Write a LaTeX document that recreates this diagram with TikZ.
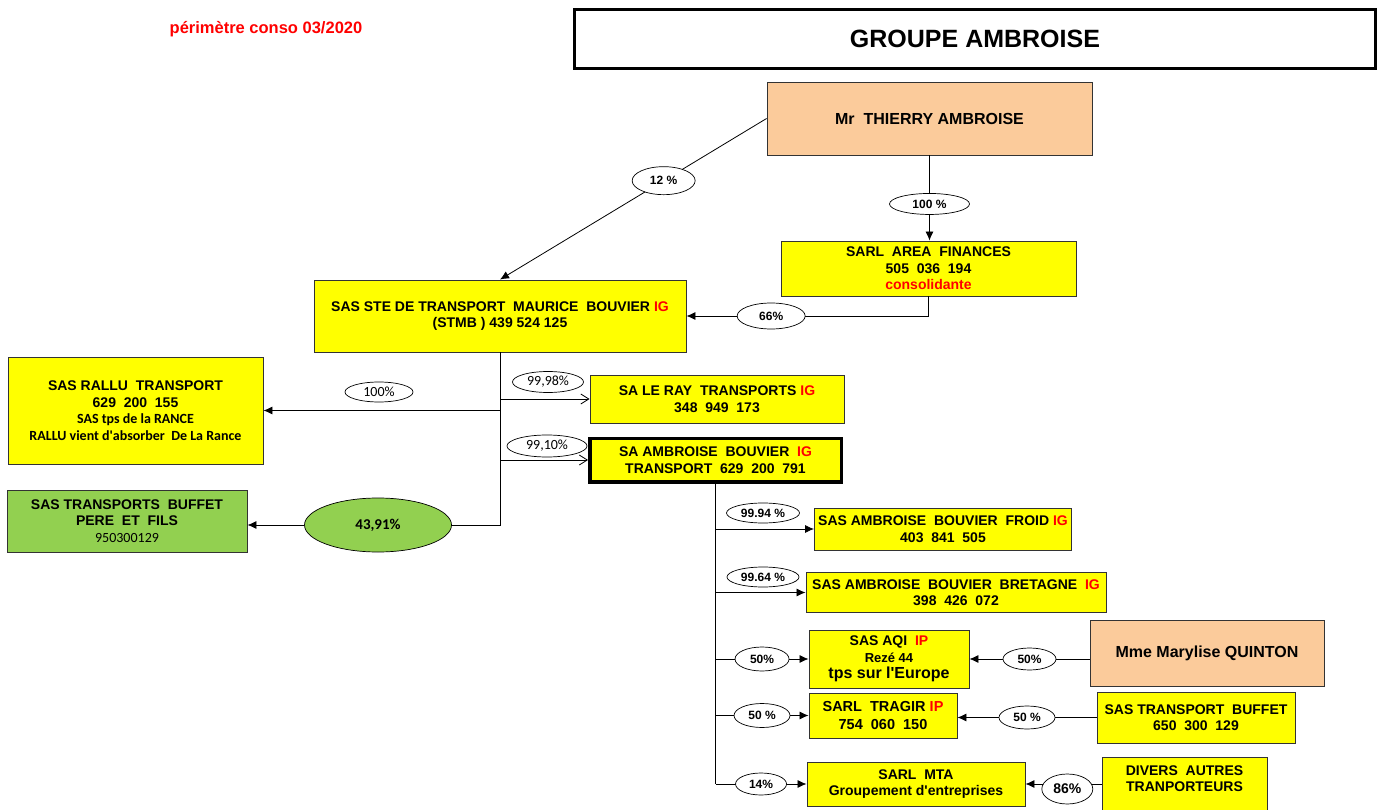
\documentclass[tikz,border=0pt]{standalone}
\usepackage{fontspec}
\setmainfont{Liberation Sans}
\newfontfamily\calibfont{Carlito}
\usetikzlibrary{shapes.geometric,arrows.meta}
\definecolor{peach}{RGB}{251,203,155}
\definecolor{firmyellow}{RGB}{255,255,0}
\definecolor{firmgreen}{RGB}{146,208,80}
\newcommand{\regime}[1]{\textcolor{red}{#1}}
\tikzset{
  firm/.style={draw=black!80,line width=0.9pt,fill=firmyellow,align=center,inner sep=0pt,
    font=\fontsize{14}{16.5}\selectfont\bfseries},
  person/.style={firm,fill=peach,font=\fontsize{16}{19}\selectfont\bfseries},
  share/.style={draw=black,ellipse,fill=white,inner sep=0pt,line width=0.7pt,
    font=\fontsize{12}{14}\selectfont\bfseries},
  sharec/.style={share,font=\calibfont\fontsize{14}{16}\selectfont},
  holds/.style={-{Latex[length=9pt,width=8pt]},line width=0.8pt},
  holdsopen/.style={-{Straight Barb[length=8pt,width=10pt]},line width=0.8pt}
}
\begin{document}
\begin{tikzpicture}[x=1pt,y=-1pt]
  \useasboundingbox (0,0) rectangle (1384,810);
  \node[text=red,font=\fontsize{16.5}{19}\selectfont\bfseries] (perimetre) at (266,29) {périmètre conso 03/2020};
  \node[draw=black,line width=3pt,minimum width=801,minimum height=59,
    font=\fontsize{25}{30}\selectfont\bfseries] (groupe) at (975,39) {GROUPE AMBROISE};

  \node[person,minimum width=325,minimum height=73] (thierry) at (929.5,118.5) {Mr~~THIERRY AMBROISE};
  \node[firm,minimum width=295,minimum height=55] (area) at (928.5,268.5)
    {SARL~~AREA~~FINANCES\\505~~036~~194\\\regime{consolidante}};
  \node[firm,minimum width=372,minimum height=72] (stmb) at (500,316)
    {SAS STE DE TRANSPORT~~MAURICE~~BOUVIER \regime{IG}\\(STMB ) 439 524 125};
  \node[firm,minimum width=255,minimum height=107] (rallu) at (135.5,410.5)
    {SAS RALLU~~TRANSPORT\\629~~200~~155\\{\calibfont\fontsize{14}{17}\selectfont SAS tps de la RANCE}\\
     {\calibfont\fontsize{14}{17}\selectfont RALLU vient d\textquotesingle absorber~~De La Rance}};
  \node[firm,minimum width=254,minimum height=48] (leray) at (717,399)
    {SA LE RAY~~TRANSPORTS \regime{IG}\\348~~949~~173};
  \node[firm,draw=black,line width=3.5pt,minimum width=251.5,minimum height=43.5] (saab) at (715.5,460)
    {SA AMBROISE~~BOUVIER~~\regime{IG}\\TRANSPORT~~629~~200~~791};
  \node[firm,fill=firmgreen,minimum width=240,minimum height=62] (buffetpf) at (127,521)
    {SAS TRANSPORTS~~BUFFET\\PERE~~ET~~FILS\\{\calibfont\mdseries 950300129}};
  \node[firm,minimum width=257,minimum height=42] (froid) at (943,529)
    {SAS AMBROISE~~BOUVIER~~FROID \regime{IG}\\403~~841~~505};
  \node[firm,minimum width=300,minimum height=40] (bretagne) at (956,592.5)
    {SAS AMBROISE~~BOUVIER~~BRETAGNE~~\regime{IG}\\398~~426~~072};
  \node[firm,minimum width=160,minimum height=58] (aqi) at (889,659)
    {SAS AQI~~\regime{IP}\\{\fontsize{13}{15}\selectfont Rezé 44}\\{\fontsize{16}{19}\selectfont tps sur l\textquotesingle Europe}};
  \node[person,minimum width=234,minimum height=66] (quinton) at (1207,653) {Mme Marylise QUINTON};
  \node[firm,font=\fontsize{14.5}{18}\selectfont\bfseries,minimum width=148,minimum height=45] (tragir) at (883,715.5)
    {SARL~~TRAGIR \regime{IP}\\754~~060~~150};
  \node[firm,minimum width=198,minimum height=51] (tbuffet) at (1196,717.5)
    {SAS TRANSPORT~~BUFFET\\650~~300~~129};
  \node[firm,minimum width=218,minimum height=44] (mta) at (916,784)
    {SARL~~MTA\\Groupement d\textquotesingle entreprises};
  \node[firm,minimum width=165,minimum height=76] (divers) at (1184.5,795)
    {DIVERS~~AUTRES\\TRANPORTEURS\\~\\~};

  \draw[holds] (thierry.west) -- (stmb.north)
    node[share,pos=0.386,minimum width=63,minimum height=28] (share12) {12 \%};
  \draw[holds] (thierry.south) -- (thierry.south |- area.north)
    node[share,pos=0.57,minimum width=80,minimum height=21] (share100) {100 \%};
  \draw[holds] (area.south) |- (stmb.east)
    node[share,pos=0.825,minimum width=68,minimum height=26] (share66) {66\%};

  \node[sharec,fill=firmgreen,font=\calibfont\bfseries\fontsize{15}{17}\selectfont,
    minimum width=147,minimum height=54] (share4391) at (378,525) {43,91\%};
  \draw (stmb.south) |- (share4391.east);
  \draw[holds] (share4391.west) -- (buffetpf.east |- share4391.west);
  \draw[holds] (stmb.south |- rallu.east) -- (rallu.east);
  \draw[holdsopen] (stmb.south |- leray.west) -- (leray.west);
  \draw[holdsopen] (stmb.south |- saab.west) -- (saab.west);
  \node[sharec,minimum width=68,minimum height=20] (share100r) at (379,392) {100\%};
  \node[sharec,minimum width=71,minimum height=21] (share9998) at (548,382) {99,98\%};
  \node[sharec,minimum width=80,minimum height=22] (share9910) at (547,446) {99,10\%};

  \draw (saab.south) -- (saab.south |- mta.west);
  \draw[holds] (saab.south |- froid.west) -- (froid.west);
  \draw[holds] (saab.south |- bretagne.west) -- (bretagne.west);
  \node[share,minimum width=73,minimum height=20] (share9994) at (763,513) {99.94 \%};
  \node[share,minimum width=72,minimum height=20] (share9964) at (763,577) {99.64 \%};
  \draw[holds] (saab.south |- aqi.west) -- (aqi.west)
    node[share,pos=0.5,minimum width=54,minimum height=24] (share50a) {50\%};
  \draw[holds] (saab.south |- tragir.west) -- (tragir.west)
    node[share,pos=0.5,minimum width=56,minimum height=24] (share50b) {50 \%};
  \draw[holds] (saab.south |- mta.west) -- (mta.west)
    node[share,pos=0.5,minimum width=51,minimum height=22] (share14) {14\%};

  \draw[holds] (quinton.west |- aqi.east) -- (aqi.east)
    node[share,pos=0.5,minimum width=53,minimum height=22] (share50c) {50\%};
  \draw[holds] (tbuffet.west) -- (tragir.east |- tbuffet.west)
    node[share,pos=0.5,minimum width=56,minimum height=23] (share50d) {50 \%};
  \draw[holds] (divers.west |- mta.east) -- (mta.east)
    node[share,pos=0.45,yshift=-5pt,font=\fontsize{14}{16}\selectfont\bfseries,
      minimum width=51,minimum height=30] (share86) {86\%};
\end{tikzpicture}
\end{document}
